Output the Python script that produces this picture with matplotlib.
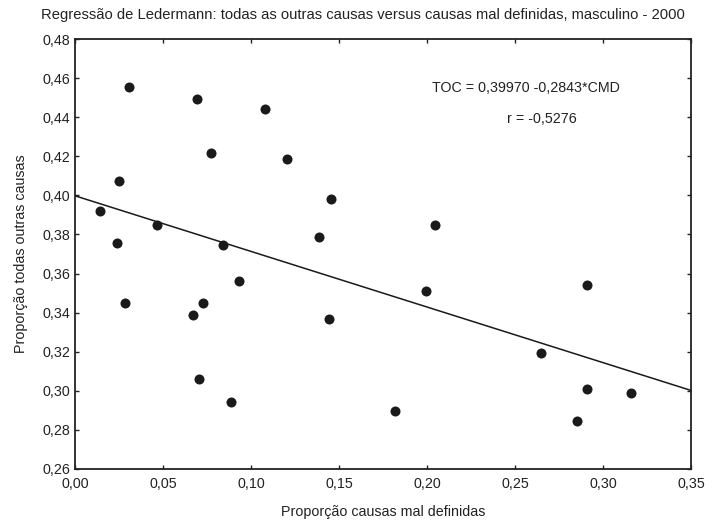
import matplotlib
matplotlib.use("Agg")
import matplotlib.pyplot as plt
from matplotlib.ticker import FuncFormatter
import numpy as np

plt.rcParams['font.family'] = ['Liberation Sans', 'DejaVu Sans']

# proporção de causas mal definidas (CMD) e de todas as outras causas (TOC)
cmd = [0.0304, 0.0692, 0.1078, 0.0771, 0.1201, 0.0245, 0.0141, 0.0462, 0.0236,
       0.0837, 0.0928, 0.0280, 0.0723, 0.0666, 0.0702, 0.0884, 0.1453, 0.1385,
       0.2044, 0.1443, 0.1995, 0.2909, 0.2645, 0.1819, 0.2909, 0.3159, 0.2850]
toc = [0.4554, 0.4493, 0.4440, 0.4215, 0.4188, 0.4074, 0.3920, 0.3850, 0.3758,
       0.3746, 0.3562, 0.3450, 0.3450, 0.3387, 0.3061, 0.2945, 0.3982, 0.3787,
       0.3849, 0.3368, 0.3513, 0.3542, 0.3192, 0.2897, 0.3011, 0.2991, 0.2844]

intercept = 0.39970
slope = -0.2843
r_value = -0.5276

xticks = [0.00, 0.05, 0.10, 0.15, 0.20, 0.25, 0.30, 0.35]
yticks = [0.26, 0.28, 0.30, 0.32, 0.34, 0.36, 0.38, 0.40, 0.42, 0.44, 0.46, 0.48]

fig = plt.figure(figsize=(7.12, 5.25), dpi=100)
ax = fig.add_axes([0.106, 0.1067, 0.8645, 0.819])

ax.scatter(cmd, toc, s=52, color='#1a1a1a', zorder=3, linewidths=0)

xl = np.linspace(0, 0.35, 200)
ax.plot(xl, intercept + slope * xl, color='#1a1a1a', lw=1.1)

ax.set_xlim(0, 0.35)
ax.set_ylim(0.26, 0.48)
ax.set_xticks(xticks)
ax.set_yticks(yticks)
fmt = FuncFormatter(lambda v, p: f"{v:.2f}".replace('.', ','))
ax.xaxis.set_major_formatter(fmt)
ax.yaxis.set_major_formatter(fmt)
ax.tick_params(direction='in', top=True, right=True, length=3, width=1,
               labelsize=10.3, colors='#222222', pad=4)
ax.tick_params(axis='x', pad=6)
for s in ax.spines.values():
    s.set_linewidth(1.3)
    s.set_color('#222222')

ax.set_xlabel('Proporção causas mal definidas', fontsize=10.3, color='#222222', labelpad=10)
ax.set_ylabel('Proporção todas outras causas', fontsize=10.3, color='#222222', labelpad=10)

fig.text(0.057, 0.972, 'Regressão de Ledermann: todas as outras causas versus causas mal definidas, masculino - 2000',
         fontsize=10.6, color='#222222', va='center', ha='left')

ax.text(0.2025, 0.4548, 'TOC = 0,39970 -0,2843*CMD', fontsize=10.3, color='#222222', va='center', ha='left')
ax.text(0.2455, 0.4389, 'r = -0,5276', fontsize=10.3, color='#222222', va='center', ha='left')

fig.savefig('out.png', dpi=100)
